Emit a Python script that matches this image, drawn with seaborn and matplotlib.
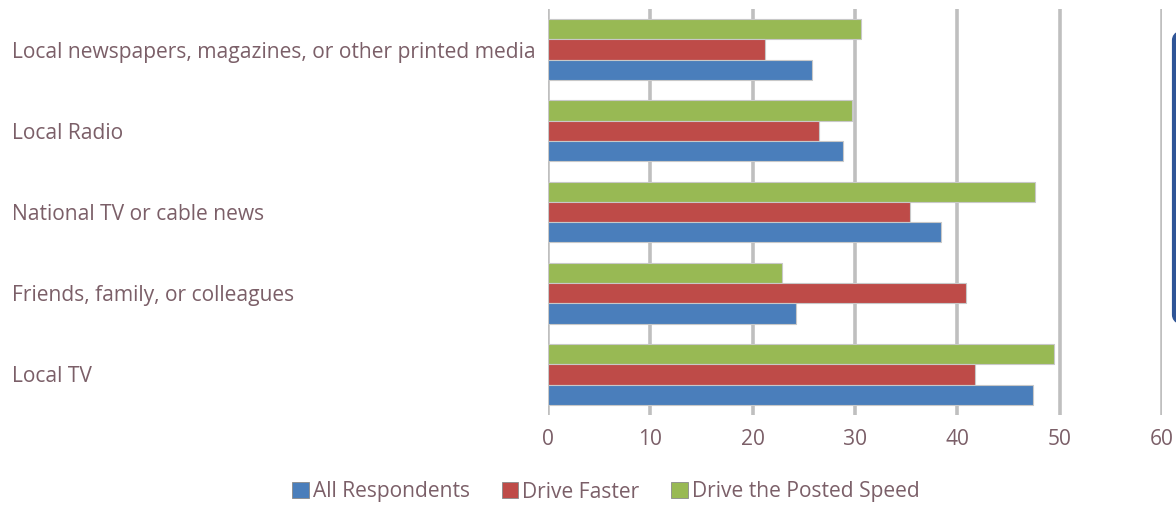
import matplotlib
matplotlib.use("Agg")
import matplotlib.pyplot as plt
from matplotlib.patches import FancyBboxPatch, Patch
import seaborn as sns
import pandas as pd

# Survey: sources of information, share of respondents (%)
categories = [
    "Local newspapers, magazines, or other printed media",
    "Local Radio",
    "National TV or cable news",
    "Friends, family, or colleagues",
    "Local TV",
]
all_respondents = [25.8, 28.8, 38.4, 24.2, 47.4]
drive_faster = [21.2, 26.5, 35.4, 40.8, 41.7]
drive_posted = [30.6, 29.7, 47.6, 22.9, 49.4]
series_names = ["All Respondents", "Drive Faster", "Drive the Posted Speed"]
x_ticks = [0, 10, 20, 30, 40, 50, 60]

colors = {
    "All Respondents": "#4a7ebb",
    "Drive Faster": "#be4b48",
    "Drive the Posted Speed": "#98b954",
}
text_color = "#7b5f68"

rows = []
for name, vals in zip(series_names, [all_respondents, drive_faster, drive_posted]):
    for cat, v in zip(categories, vals):
        rows.append({"Source": cat, "Group": name, "Value": v})
df = pd.DataFrame(rows)

sns.set_theme(style="white")
plt.rcParams["font.family"] = ["Open Sans", "DejaVu Sans"]

fig = plt.figure(figsize=(11.76, 5.12), dpi=100)
ax = fig.add_axes([548 / 1176, 1 - 415 / 512, (1162 - 548) / 1176, (415 - 9) / 512])

# stacking order within each group: green on top, then red, then blue
draw_order = ["Drive the Posted Speed", "Drive Faster", "All Respondents"]
sns.barplot(
    data=df, x="Value", y="Source", hue="Group", hue_order=draw_order,
    order=categories, palette=colors, saturation=1, orient="h", width=0.75,
    edgecolor="#c8c8c8", linewidth=0.8, ax=ax, legend=False, zorder=3,
)

ax.set_xlim(0, 60)
ax.set_ylim(4.5, -0.5)
ax.set_xticks(x_ticks)
ax.set_xticklabels([str(t) for t in x_ticks])
ax.xaxis.grid(True, color="#bfbfbf", linewidth=2.6, zorder=0)
ax.yaxis.grid(False)
ax.set_axisbelow(True)
for s in ax.spines.values():
    s.set_visible(False)
ax.set_xlabel("")
ax.set_ylabel("")

fs = 15.1
ax.tick_params(axis="x", length=0, pad=10, labelsize=fs, labelcolor=text_color)
ax.tick_params(axis="y", length=0, pad=(548 - 12) * 0.72, labelsize=fs, labelcolor=text_color)
for lab in ax.get_yticklabels():
    lab.set_ha("left")

handles = [Patch(facecolor=colors[n], edgecolor="#8a8a8a", linewidth=0.6) for n in series_names]
fig.legend(
    handles, series_names, loc="center", bbox_to_anchor=(606 / 1176, 1 - 492 / 512),
    ncol=3, frameon=False, fontsize=fs, labelcolor=text_color,
    handlelength=0.8, handleheight=0.8, handletextpad=0.2, columnspacing=1.5,
)

# edge of the neighbouring rounded panel
panel = FancyBboxPatch(
    (1174 / 1176, 1 - 325 / 512), 0.05, (325 - 30) / 512,
    boxstyle="round,pad=0,rounding_size=0.02", transform=fig.transFigure,
    facecolor="white", edgecolor="#2f5597", linewidth=3, clip_on=False,
)
fig.patches.append(panel)

fig.savefig("out.png", dpi=100)
